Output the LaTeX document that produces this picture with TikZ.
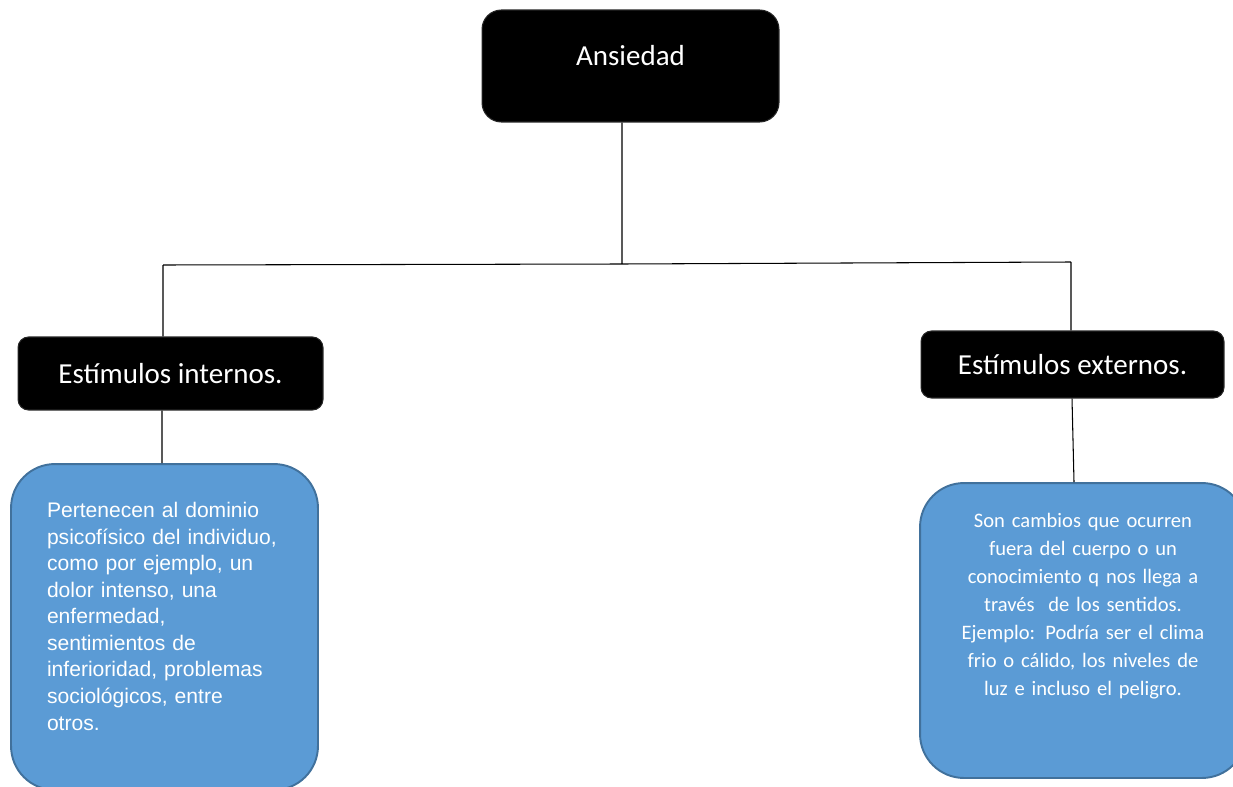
\documentclass[tikz,border=0pt]{standalone}
\usepackage{fontspec}
\setmainfont{Carlito}
\newfontfamily\arialf{Liberation Sans}
\usepackage{tkz-euclide}
\definecolor{azul}{HTML}{5B9BD5}
\definecolor{bordeazul}{HTML}{41719C}
\tikzset{
negro/.style={draw=black!85,fill=black,text=white,font=\fontsize{16.5}{20}\selectfont},
azulbox/.style={draw=bordeazul,line width=1.1pt,fill=azul,text=white,rounded corners=25pt}
}

\begin{document}
\begin{tikzpicture}[x=0.02cm,y=-0.02cm,semithick]
\useasboundingbox (0,0) rectangle (1233,787);
\tkzDefPoints{630.5/66/A,170.5/373.5/I,1072.5/364.5/E,164.5/627/P,1083/630.5/Q,622/264/M,163/265/L,1071/262/R}
\node[negro,minimum width=5.94cm,minimum height=2.24cm,rounded corners=11pt,text height=12pt,text depth=13pt](ans)at(A){Ansiedad};
\node[negro,minimum width=6.1cm,minimum height=1.46cm,rounded corners=6pt](int)at(I){Estímulos internos.};
\node[negro,minimum width=6.06cm,minimum height=1.34cm,rounded corners=6pt](ext)at(E){Estímulos externos.};
\node[azulbox,minimum width=6.14cm,minimum height=6.52cm,text width=4.7cm,align=left,text depth=133pt,
font=\arialf\fontsize{12}{15.1}\selectfont](pin)at(P){Pertenecen al dominio\\psicofísico del individuo,\\como por ejemplo, un\\dolor intenso, una\\enfermedad,\\sentimientos de\\inferioridad, problemas\\sociológicos, entre\\otros.};
\node[azulbox,minimum width=6.52cm,minimum height=5.9cm,text width=5.2cm,align=center,text depth=125pt,
font=\fontsize{11.7}{15.9}\selectfont](pex)at(Q){Son cambios que ocurren\\fuera del cuerpo o un\\conocimiento q nos llega a\\través\ \ de los sentidos.\\Ejemplo: Podría ser el clima\\frio o cálido, los niveles de\\luz e incluso el peligro.};
\draw(ans.south-|M)--(M)(L)--(M)--(R)(L)--(int.north-|L)(R)--(ext.north-|R)
(int.south-|162,0)--(pin.north-|162,0)(ext.south-|1072,0)--(pex.north-|1074,0);
\end{tikzpicture}
\end{document}
